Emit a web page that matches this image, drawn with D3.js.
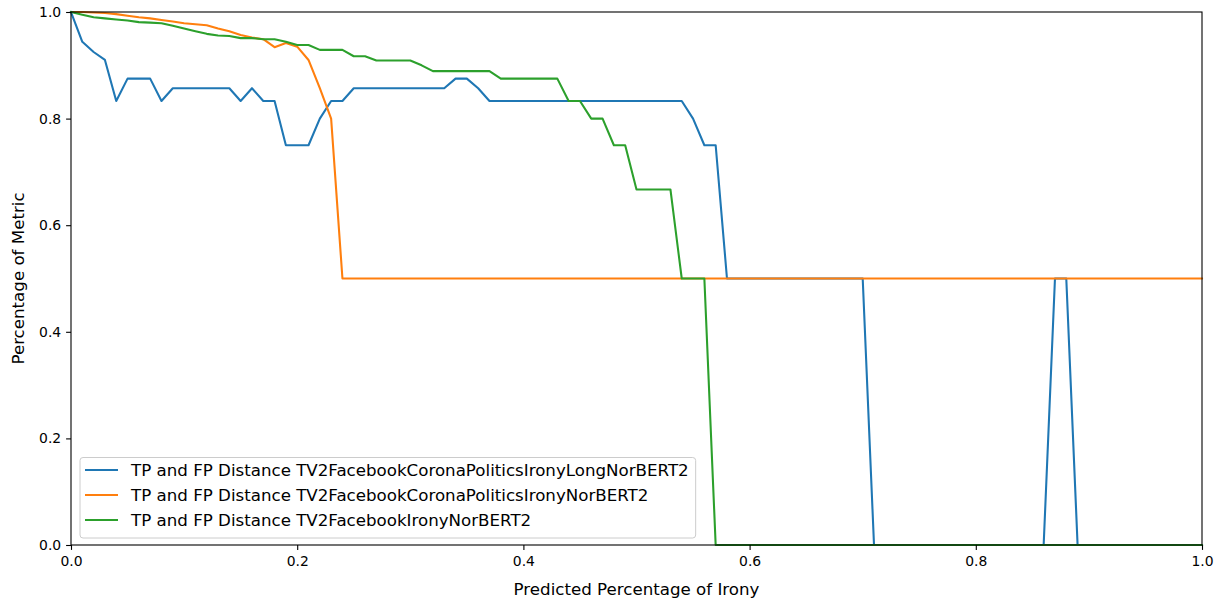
<!DOCTYPE html>
<html>
<head>
<meta charset="utf-8">
<script src="https://cdn.jsdelivr.net/npm/d3@7"></script>
<style>
  body { margin: 0; background: #fff; }
  svg { font-family: "DejaVu Sans", sans-serif; }
</style>
</head>
<body>
<svg id="chart" width="1223" height="601"></svg>
<script>
// griglia delle soglie (0.00 .. 1.00, passo 0.01)
const thresholds = d3.range(101).map(i => i / 100)

// serie
const seriesNames = [
  'TP and FP Distance TV2FacebookCoronaPoliticsIronyLongNorBERT2',
  'TP and FP Distance TV2FacebookCoronaPoliticsIronyNorBERT2',
  'TP and FP Distance TV2FacebookIronyNorBERT2'
]
const seriesColors = ['#1f77b4', '#ff7f0e', '#2ca02c']

const longNorBert = [
  1.0, 0.944, 0.925, 0.91, 0.833, 0.875, 0.875, 0.875, 0.833, 0.857,
  0.857, 0.857, 0.857, 0.857, 0.857, 0.833, 0.857, 0.833, 0.833, 0.75,
  0.75, 0.75, 0.8, 0.833, 0.833, 0.857, 0.857, 0.857, 0.857, 0.857,
  0.857, 0.857, 0.857, 0.857, 0.875, 0.875, 0.857, 0.833, 0.833, 0.833,
  0.833, 0.833, 0.833, 0.833, 0.833, 0.833, 0.833, 0.833, 0.833, 0.833,
  0.833, 0.833, 0.833, 0.833, 0.833, 0.8, 0.75, 0.75, 0.5, 0.5,
  0.5, 0.5, 0.5, 0.5, 0.5, 0.5, 0.5, 0.5, 0.5, 0.5,
  0.5, 0, 0, 0, 0, 0, 0, 0, 0, 0,
  0, 0, 0, 0, 0, 0, 0, 0.5, 0.5, 0,
  0, 0, 0, 0, 0, 0, 0, 0, 0, 0,
  0
]

const coronaPoliticsNorBert = [
  1.0, 1.0, 0.999, 0.998, 0.996, 0.993, 0.99, 0.988, 0.985, 0.982,
  0.979, 0.977, 0.975, 0.969, 0.964, 0.957, 0.952, 0.949, 0.934, 0.942,
  0.935, 0.91, 0.857, 0.8, 0.5, 0.5, 0.5, 0.5, 0.5, 0.5,
  0.5, 0.5, 0.5, 0.5, 0.5, 0.5, 0.5, 0.5, 0.5, 0.5,
  0.5, 0.5, 0.5, 0.5, 0.5, 0.5, 0.5, 0.5, 0.5, 0.5,
  0.5, 0.5, 0.5, 0.5, 0.5, 0.5, 0.5, 0.5, 0.5, 0.5,
  0.5, 0.5, 0.5, 0.5, 0.5, 0.5, 0.5, 0.5, 0.5, 0.5,
  0.5, 0.5, 0.5, 0.5, 0.5, 0.5, 0.5, 0.5, 0.5, 0.5,
  0.5, 0.5, 0.5, 0.5, 0.5, 0.5, 0.5, 0.5, 0.5, 0.5,
  0.5, 0.5, 0.5, 0.5, 0.5, 0.5, 0.5, 0.5, 0.5, 0.5,
  0.5
]

const ironyNorBert = [
  1.0, 0.995, 0.99, 0.988, 0.986, 0.984, 0.981, 0.98, 0.979, 0.974,
  0.969, 0.964, 0.959, 0.956, 0.955, 0.951, 0.951, 0.949, 0.949, 0.944,
  0.938, 0.938, 0.929, 0.929, 0.929, 0.917, 0.917, 0.909, 0.909, 0.909,
  0.909, 0.9, 0.889, 0.889, 0.889, 0.889, 0.889, 0.889, 0.875, 0.875,
  0.875, 0.875, 0.875, 0.875, 0.833, 0.833, 0.8, 0.8, 0.75, 0.75,
  0.667, 0.667, 0.667, 0.667, 0.5, 0.5, 0.5, 0, 0, 0,
  0, 0, 0, 0, 0, 0, 0, 0, 0, 0,
  0, 0, 0, 0, 0, 0, 0, 0, 0, 0,
  0, 0, 0, 0, 0, 0, 0, 0, 0, 0,
  0, 0, 0, 0, 0, 0, 0, 0, 0, 0,
  0
]

const allSeries = [longNorBert, coronaPoliticsNorBert, ironyNorBert]
const tickValues = [0, 0.2, 0.4, 0.6, 0.8, 1.0]

const svg = d3.select('#chart')
const width = 1223
const height = 601
const margin = { top: 12, right: 21, bottom: 56, left: 71 }

const xScale = d3.scaleLinear().domain([0, 1]).range([margin.left, width - margin.right])
const yScale = d3.scaleLinear().domain([0, 1]).range([height - margin.bottom, margin.top])

const tickFont = '13.9px'
const labelFont = '16.67px'

// linee
const line = d3.line()
  .x((d, i) => xScale(thresholds[i]))
  .y(d => yScale(d))

const plot = svg.append('g')
allSeries.forEach((s, k) => {
  plot.append('path')
    .datum(s)
    .attr('d', line)
    .attr('fill', 'none')
    .attr('stroke', seriesColors[k])
    .attr('stroke-width', 2.08)
    .attr('stroke-linejoin', 'round')
    .attr('stroke-linecap', 'square')
})

// cornice
svg.append('rect')
  .attr('x', margin.left)
  .attr('y', margin.top)
  .attr('width', width - margin.left - margin.right)
  .attr('height', height - margin.top - margin.bottom)
  .attr('fill', 'none')
  .attr('stroke', '#000')
  .attr('stroke-width', 1.1)

// assi
const xAxis = d3.axisBottom(xScale).tickValues(tickValues).tickFormat(d3.format('.1f')).tickSize(4.9).tickPadding(6)
const yAxis = d3.axisLeft(yScale).tickValues(tickValues).tickFormat(d3.format('.1f')).tickSize(4.9).tickPadding(4.9)

svg.append('g')
  .attr('transform', `translate(0, ${height - margin.bottom})`)
  .call(xAxis)
svg.append('g')
  .attr('transform', `translate(${margin.left}, 0)`)
  .call(yAxis)

svg.selectAll('path.domain').remove()
svg.selectAll('.tick line').attr('stroke', '#000').attr('stroke-width', 1.1)
svg.selectAll('.tick text')
  .attr('fill', '#000')
  .style('font-size', tickFont)
  .style('font-family', '"DejaVu Sans", sans-serif')

// etichette assi
svg.append('text')
  .attr('x', (margin.left + width - margin.right) / 2)
  .attr('y', 595)
  .attr('text-anchor', 'middle')
  .style('font-size', labelFont)
  .text('Predicted Percentage of Irony')

svg.append('text')
  .attr('transform', `translate(24, ${(margin.top + height - margin.bottom) / 2}) rotate(-90)`)
  .attr('text-anchor', 'middle')
  .style('font-size', labelFont)
  .text('Percentage of Metric')

// legenda
const legend = svg.append('g')
const legendRows = seriesNames.map((name, k) => ({ name, color: seriesColors[k], y: 470 + k * 25 }))

const legendBox = legend.append('rect')
  .attr('x', 80)
  .attr('y', 457.5)
  .attr('height', 80.5)
  .attr('rx', 3)
  .attr('fill', 'rgba(255,255,255,0.8)')
  .attr('stroke', '#cccccc')
  .attr('stroke-width', 1)

legendRows.forEach(r => {
  legend.append('line')
    .attr('x1', 85).attr('x2', 118)
    .attr('y1', r.y).attr('y2', r.y)
    .attr('stroke', r.color)
    .attr('stroke-width', 2.08)
  legend.append('text')
    .attr('x', 131)
    .attr('y', r.y)
    .attr('dy', '0.35em')
    .style('font-size', labelFont)
    .attr('fill', '#000')
    .text(r.name)
})

// larghezza del riquadro in base al testo più lungo
const maxRight = d3.max(legend.selectAll('text').nodes(), n => {
  const b = n.getBBox()
  return b.x + b.width
})
legendBox.attr('width', maxRight + 7 - 80)
</script>
</body>
</html>
